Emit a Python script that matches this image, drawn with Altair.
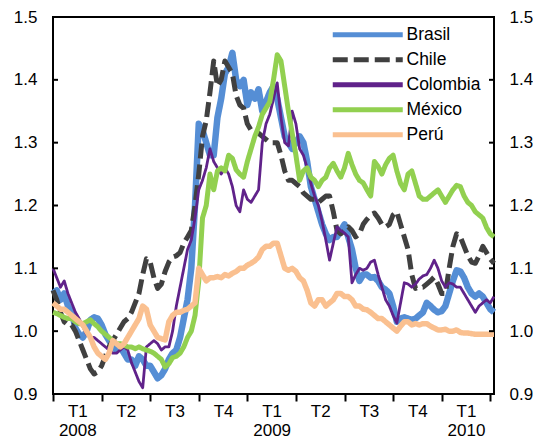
import json
import altair as alt
import pandas as pd

# weeks since 1 Jan 2008 (weekly observations)
weeks = list(range(119))

brasil = [
    1.06, 1.065, 1.05, 1.06, 1.04, 1.03, 1.005, 0.995, 0.99, 1.0,
    1.018, 1.022, 1.02, 1.01, 0.995, 0.985, 0.975, 0.97, 0.975, 0.965,
    0.955, 0.955, 0.945, 0.96, 0.955, 0.945, 0.945, 0.935, 0.925, 0.93,
    0.94, 0.955, 0.965, 0.97, 0.99, 1.02, 1.05, 1.1, 1.2, 1.33,
    1.32, 1.3, 1.28, 1.28, 1.34, 1.37, 1.41, 1.42, 1.443, 1.4,
    1.39, 1.4, 1.36, 1.38, 1.37, 1.385, 1.35, 1.365, 1.38, 1.39,
    1.37, 1.34, 1.31, 1.3, 1.29, 1.3, 1.31, 1.3, 1.27, 1.23,
    1.21, 1.19, 1.17, 1.155, 1.145, 1.15, 1.15, 1.16, 1.17, 1.15,
    1.13, 1.1, 1.08, 1.09, 1.09, 1.085, 1.086, 1.08, 1.07, 1.066,
    1.06, 1.04, 1.015, 1.02, 1.022, 1.02, 1.018, 1.02, 1.025, 1.03,
    1.045, 1.04, 1.034, 1.03, 1.032, 1.04, 1.06, 1.08, 1.097, 1.095,
    1.085, 1.07, 1.06, 1.055, 1.06, 1.055, 1.045, 1.035, 1.03,
]
chile = [
    1.065, 1.05, 1.03, 1.015, 1.01, 1.01, 1.0, 0.985, 0.97, 0.955,
    0.94, 0.932, 0.935, 0.945, 0.96, 0.975, 0.985, 0.995, 1.005, 1.015,
    1.02, 1.03, 1.045, 1.06, 1.09, 1.115, 1.11, 1.085, 1.068, 1.075,
    1.095, 1.11, 1.118, 1.12, 1.125, 1.14, 1.15, 1.16, 1.2, 1.25,
    1.31, 1.335, 1.38, 1.43, 1.39, 1.4, 1.43, 1.42, 1.41, 1.375,
    1.36, 1.355, 1.33, 1.32, 1.315, 1.315, 1.31, 1.305, 1.3, 1.3,
    1.3, 1.28, 1.255, 1.24, 1.24, 1.235, 1.23, 1.22, 1.215, 1.21,
    1.21, 1.205, 1.21, 1.215, 1.215, 1.19, 1.16, 1.155, 1.16, 1.166,
    1.16, 1.15, 1.155, 1.17, 1.178, 1.185, 1.188, 1.18, 1.17, 1.166,
    1.17, 1.185, 1.19, 1.17, 1.15, 1.13, 1.09, 1.068, 1.07, 1.07,
    1.075, 1.08, 1.086, 1.075, 1.06, 1.06, 1.1, 1.135, 1.155, 1.15,
    1.135, 1.12, 1.11, 1.108, 1.12, 1.135, 1.125, 1.115, 1.108,
]
colombia = [
    1.1, 1.085, 1.07, 1.08, 1.06, 1.045, 1.03, 1.02, 1.007, 0.995,
    0.99, 0.99, 0.985, 0.98, 0.975, 0.97, 0.965, 0.965, 0.97, 0.975,
    0.97, 0.95, 0.935, 0.92, 0.91, 0.975, 0.98, 0.985, 0.98, 0.97,
    0.975, 0.975, 1.0, 1.04, 1.07, 1.1, 1.13, 1.145, 1.18, 1.225,
    1.24, 1.26, 1.29, 1.27, 1.26, 1.25, 1.26, 1.25, 1.23, 1.2,
    1.19, 1.225, 1.21, 1.205, 1.215, 1.225, 1.3, 1.33, 1.345, 1.37,
    1.395, 1.34, 1.3, 1.295, 1.35, 1.33, 1.29, 1.28, 1.26, 1.235,
    1.215, 1.2, 1.175, 1.145, 1.113, 1.14, 1.166, 1.16, 1.156, 1.15,
    1.077, 1.09, 1.1, 1.097, 1.1, 1.11, 1.113, 1.09, 1.07, 1.05,
    1.04, 1.025, 1.013, 1.045, 1.077, 1.075, 1.07, 1.075, 1.083, 1.088,
    1.09, 1.1, 1.113, 1.1, 1.08, 1.07, 1.077, 1.075, 1.07, 1.07,
    1.06, 1.05, 1.04, 1.03, 1.04, 1.045, 1.05, 1.045, 1.055,
]
mexico = [
    1.03, 1.028, 1.025, 1.022, 1.02, 1.02, 1.015, 1.012, 1.012, 1.015,
    1.018, 1.012, 1.007, 1.0, 0.995, 0.99, 0.985, 0.98, 0.98, 0.978,
    0.975, 0.975, 0.972, 0.975, 0.972, 0.97, 0.968, 0.965, 0.96, 0.955,
    0.943, 0.948, 0.958, 0.96, 0.965, 0.975, 0.99, 1.0, 1.025, 1.08,
    1.18, 1.2, 1.25, 1.225, 1.255, 1.26, 1.255, 1.28, 1.275, 1.257,
    1.25, 1.245, 1.27, 1.29, 1.31, 1.325, 1.345, 1.355, 1.365, 1.4,
    1.44, 1.43, 1.39, 1.35, 1.315, 1.28, 1.24, 1.255, 1.26, 1.245,
    1.24, 1.23, 1.24, 1.245, 1.26, 1.267, 1.255, 1.245, 1.26, 1.283,
    1.265, 1.25, 1.24, 1.236, 1.225, 1.215, 1.27, 1.262, 1.25, 1.265,
    1.275, 1.28, 1.255, 1.235, 1.225, 1.25, 1.255, 1.235, 1.215, 1.21,
    1.21, 1.215, 1.22, 1.225, 1.215, 1.205, 1.215, 1.225, 1.232, 1.23,
    1.215, 1.205, 1.2, 1.19, 1.185, 1.18, 1.165, 1.155, 1.15,
]
peru = [
    1.045, 1.04, 1.035, 1.035, 1.03, 1.025, 1.02, 1.015, 1.01, 1.0,
    0.99, 0.975, 0.965, 0.96, 0.955, 0.965, 0.985, 0.98, 0.975, 0.98,
    0.99, 1.0, 1.01, 1.02, 1.04, 1.035, 1.01, 1.0, 0.99, 0.988,
    0.986, 1.015, 1.025, 1.03, 1.03, 1.033, 1.035, 1.04, 1.045, 1.1,
    1.09, 1.08, 1.085, 1.085, 1.087, 1.085, 1.09, 1.088, 1.092, 1.095,
    1.1, 1.1, 1.105, 1.108, 1.112, 1.118, 1.13, 1.135, 1.135, 1.14,
    1.14, 1.12, 1.1, 1.097, 1.1, 1.095, 1.085, 1.08, 1.065, 1.045,
    1.04, 1.05, 1.05, 1.04, 1.045, 1.05, 1.06, 1.06, 1.055, 1.055,
    1.05, 1.04, 1.04, 1.035, 1.034, 1.03, 1.025, 1.02, 1.02, 1.015,
    1.01, 1.005, 1.0, 1.008, 1.015, 1.015, 1.01, 1.012, 1.01, 1.012,
    1.012, 1.008, 1.005, 1.002, 1.002, 1.003, 1.0, 1.0, 1.002, 0.998,
    0.997, 0.997, 0.996, 0.995, 0.995, 0.995, 0.995, 0.995, 0.995,
]

countries = ["Brasil", "Chile", "Colombia", "México", "Perú"]
colors = ["#558ED5", "#404040", "#60228A", "#92D050", "#FAC090"]
widths = [6.5, 5, 2.8, 5, 5.5]
dashes = [[1, 0], [15, 6], [1, 0], [1, 0], [1, 0]]

y_label_values = [0.9, 1.0, 1.1, 1.2, 1.3, 1.4, 1.5]
y_inner_ticks = [1.0, 1.1, 1.2, 1.3, 1.4]
quarter_ticks = [0, 13, 26, 39, 52, 65, 78, 91, 104, 117]
quarter_labels = ["T1", "T2", "T3", "T4", "T1", "T2", "T3", "T4", "T1", ""]
year_labels = ["2008", "", "", "", "2009", "", "", "", "2010", ""]

series = [brasil, chile, colombia, mexico, peru]
for s in series:
    assert len(s) == len(weeks), len(s)

rows = []
for name, vals, w in zip(countries, series, widths):
    for wk, v in zip(weeks, vals):
        rows.append({"week": wk, "country": name, "value": v, "sw": w})
df = pd.DataFrame(rows)

entries = [[q, y] if y else q for q, y in zip(quarter_labels, year_labels)]
label_expr = f"{json.dumps(entries)}[indexof({json.dumps(quarter_ticks)}, datum.value)]"

W, H = 441, 377
xscale = alt.Scale(domain=[0, 118], nice=False, zero=False)
yscale = alt.Scale(domain=[0.9, 1.5], nice=False, zero=False)

legend_props = dict(
    title=None, orient="none", legendX=271, legendY=9, padding=0,
    symbolType="M0,0H14", symbolSize=100, symbolStrokeWidth=5,
    labelFont="Liberation Sans", labelFontSize=17.5, labelColor="black",
    labelOffset=65, rowPadding=4,
)

lines = alt.Chart(df).mark_line(strokeJoin="round").encode(
    x=alt.X("week:Q", scale=xscale, title=None,
            axis=alt.Axis(values=quarter_ticks, labelExpr=label_expr, labelOffset=24.3,
                          tickSize=7, tickWidth=2, tickColor="black", domain=False,
                          grid=False, labelPadding=2, labelLineHeight=19,
                          labelBaseline="top", labelAlign="center",
                          labelOverlap=False, labelBound=False, labelFlush=False)),
    y=alt.Y("value:Q", scale=yscale, title=None,
            axis=alt.Axis(values=y_label_values, format=".1f", orient="left",
                          ticks=False, domain=False, grid=False, labelPadding=16)),
    color=alt.Color("country:N", scale=alt.Scale(domain=countries, range=colors),
                    legend=alt.Legend(**legend_props)),
    strokeDash=alt.StrokeDash("country:N", scale=alt.Scale(domain=countries, range=dashes),
                              legend=alt.Legend(**legend_props)),
    strokeWidth=alt.StrokeWidth("sw:Q", scale=None),
)

tick_df = pd.DataFrame({"v": y_inner_ticks})
left_ticks = alt.Chart(tick_df).mark_rule(color="black", strokeWidth=2).encode(
    y=alt.Y("v:Q", scale=yscale, axis=None),
    x=alt.value(0), x2=alt.value(5),
)
right_ticks = alt.Chart(tick_df).mark_rule(color="black", strokeWidth=2).encode(
    y=alt.Y("v:Q", scale=yscale, title=None,
            axis=alt.Axis(orient="right", values=y_label_values, format=".1f",
                          ticks=False, domain=False, grid=False, labelPadding=15)),
    x=alt.value(W - 5), x2=alt.value(W),
)

chart = (
    alt.layer(lines, left_ticks, right_ticks)
    .resolve_axis(y="independent")
    .properties(width=W, height=H,
                padding={"left": 45, "top": 9, "right": 39, "bottom": 46},
                autosize=alt.AutoSizeParams(type="none"))
    .configure_view(stroke="black", strokeWidth=2)
    .configure_axis(labelFont="Liberation Sans", labelFontSize=17, labelColor="black")
)

chart.save("out.html", embed_options={"renderer": "svg", "actions": False})
